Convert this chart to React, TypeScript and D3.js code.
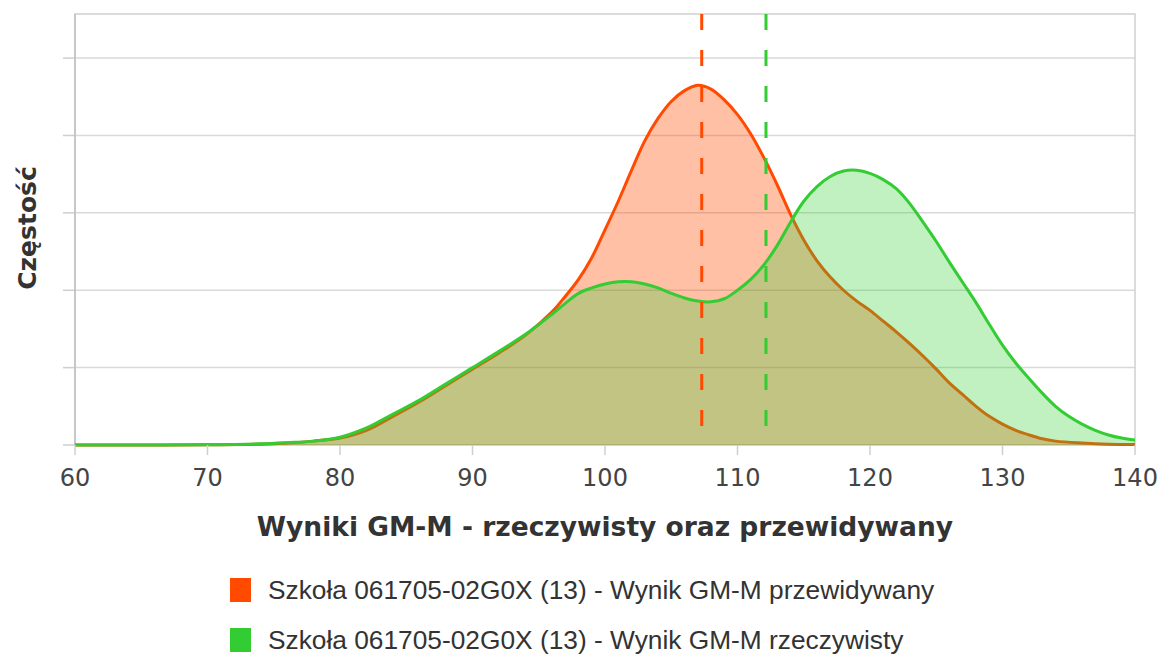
import * as d3 from "d3";

// x values and densities (y in gridline units)
const predX = [60, 65, 70, 74, 76, 78, 80, 82, 84, 86, 88, 90, 92, 94, 96, 97, 98, 99, 100, 101, 102, 103, 104, 105, 106, 107, 108, 109, 110, 111, 112, 113, 114, 115, 116, 117, 118, 119, 120, 121, 122, 123, 124, 125, 126, 127, 128, 129, 130, 131, 132, 133, 134, 136, 138, 140];
const predY = [0, 0, 0.002, 0.01, 0.025, 0.05, 0.09, 0.19, 0.37, 0.56, 0.77, 0.98, 1.19, 1.42, 1.72, 1.92, 2.14, 2.42, 2.78, 3.15, 3.55, 3.93, 4.22, 4.44, 4.58, 4.65, 4.6, 4.46, 4.27, 4.02, 3.71, 3.36, 2.98, 2.65, 2.38, 2.17, 2.0, 1.86, 1.74, 1.6, 1.46, 1.31, 1.15, 0.98, 0.8, 0.65, 0.5, 0.37, 0.27, 0.19, 0.13, 0.08, 0.05, 0.025, 0.01, 0.005];

const actX = [60, 65, 70, 74, 76, 78, 80, 82, 84, 86, 88, 90, 92, 94, 96, 97, 98, 99, 100, 101, 102, 103, 104, 105, 106, 107, 108, 109, 110, 111, 112, 113, 114, 115, 116, 117, 118, 119, 120, 121, 122, 123, 124, 125, 126, 127, 128, 129, 130, 131, 132, 133, 134, 135, 136, 137, 138, 139, 140];
const actY = [0, 0, 0.003, 0.015, 0.03, 0.05, 0.1, 0.22, 0.4, 0.58, 0.79, 1.0, 1.21, 1.43, 1.69, 1.83, 1.96, 2.03, 2.08, 2.11, 2.11, 2.08, 2.03, 1.96, 1.9, 1.86, 1.85, 1.89, 2.0, 2.14, 2.33, 2.58, 2.88, 3.15, 3.34, 3.47, 3.54, 3.55, 3.51, 3.43, 3.31, 3.12, 2.88, 2.63, 2.36, 2.1, 1.84, 1.56, 1.29, 1.06, 0.86, 0.67, 0.5, 0.37, 0.27, 0.19, 0.13, 0.09, 0.065];

const xTicks = [60, 70, 80, 90, 100, 110, 120, 130, 140];
const yTicks = [0, 1, 2, 3, 4, 5];
const meanPred = 107.3;
const meanAct = 112.15;

const xTitle = "Wyniki GM-M - rzeczywisty oraz przewidywany";
const yTitle = "Częstość";
const legendLabels = [
  "Szkoła 061705-02G0X (13) - Wynik GM-M przewidywany",
  "Szkoła 061705-02G0X (13) - Wynik GM-M rzeczywisty",
];

const ORANGE = "#ff4a00";
const GREEN = "#33cc33";

const W = 1163;
const H = 657;
const left = 75;
const right = 1135;
const top = 14;
const bottom = 445;

function App() {
  const x = d3.scaleLinear().domain([60, 140]).range([left, right]);
  const y = d3.scaleLinear().domain([0, 5.57]).range([bottom, top]);

  const series = [
    { xs: predX, ys: predY, color: ORANGE, opacity: 0.35 },
    { xs: actX, ys: actY, color: GREEN, opacity: 0.3 },
  ];

  return (
    <svg
      width={W}
      height={H}
      style={{ position: "absolute", left: 0, top: 0, background: "#fff" }}
    >
      {/* grid */}
      {yTicks.map((t) => (
        <g key={t}>
          <line x1={left} x2={right} y1={y(t)} y2={y(t)} stroke="#d9d9d9" strokeWidth={1.5} />
          <line x1={63} x2={left} y1={y(t)} y2={y(t)} stroke="#cfcfcf" strokeWidth={1.5} />
        </g>
      ))}
      <rect x={left} y={top} width={right - left} height={bottom - top} fill="none" stroke="#d0d0d0" strokeWidth={1.5} />
      <line x1={left} x2={left} y1={top} y2={bottom} stroke="#c0c0c0" strokeWidth={1.5} />

      {/* series */}
      {series.map((s, k) => {
        const pts: [number, number][] = s.xs.map((v, i) => [v, s.ys[i]]);
        const a = d3
          .area<[number, number]>()
          .x((d) => x(d[0]))
          .y0(y(0))
          .y1((d) => y(d[1]))
          .curve(d3.curveCatmullRom);
        const l = d3
          .line<[number, number]>()
          .x((d) => x(d[0]))
          .y((d) => y(d[1]))
          .curve(d3.curveCatmullRom);
        return (
          <g key={k}>
            <path d={a(pts) ?? ""} fill={s.color} fillOpacity={s.opacity} />
            <path d={l(pts) ?? ""} fill="none" stroke={s.color} strokeWidth={3} />
          </g>
        );
      })}

      {/* mean lines */}
      {[
        { v: meanPred, c: ORANGE },
        { v: meanAct, c: GREEN },
      ].map((m) => (
        <line
          key={m.v}
          x1={x(m.v)}
          x2={x(m.v)}
          y1={top}
          y2={bottom}
          stroke={m.c}
          strokeWidth={3}
          strokeDasharray="16,20"
        />
      ))}

      {/* x axis */}
      {xTicks.map((t) => (
        <g key={t}>
          <line x1={x(t)} x2={x(t)} y1={bottom} y2={bottom + 10} stroke="#cfcfcf" strokeWidth={1.5} />
          <text
            x={x(t)}
            y={bottom + 41}
            textAnchor="middle"
            fontFamily="DejaVu Sans"
            fontSize={24}
            fill="#444"
          >
            {t}
          </text>
        </g>
      ))}
      <text
        x={605}
        y={536}
        textAnchor="middle"
        fontFamily="DejaVu Sans"
        fontWeight="bold"
        fontSize={26.5}
        fill="#333"
      >
        {xTitle}
      </text>
      <text
        transform={`translate(36,${228}) rotate(-90)`}
        textAnchor="middle"
        fontFamily="DejaVu Sans"
        fontWeight="bold"
        fontSize={25}
        fill="#333"
      >
        {yTitle}
      </text>

      {/* legend */}
      {legendLabels.map((lab, i) => (
        <g key={lab} transform={`translate(230,${578 + i * 50})`}>
          <rect width={21} height={24} fill={i === 0 ? ORANGE : GREEN} />
          <text x={38} y={21} fontFamily="Liberation Sans, Arial" fontSize={26.3} fill="#333">
            {lab}
          </text>
        </g>
      ))}
    </svg>
  );
}

export default App;
